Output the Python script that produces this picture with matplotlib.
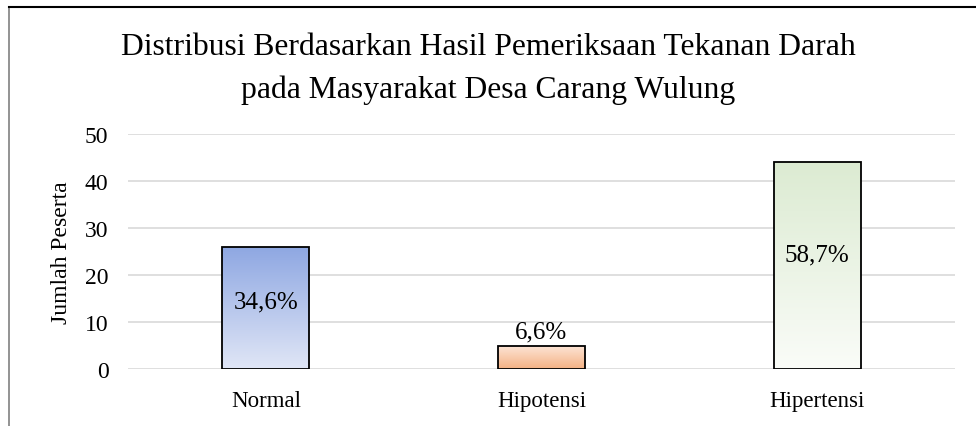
import matplotlib.pyplot as plt
import numpy as np
from matplotlib.colors import LinearSegmentedColormap
from matplotlib.lines import Line2D

categories = ['Normal', 'Hipotensi', 'Hipertensi']
counts = [26, 5, 44]
percent_labels = ['34,6%', '6,6%', '58,7%']
# gradient colours (top, bottom) for each bar
grad_top = ['#8ea7e2', '#fde6d8', '#dcebd2']
grad_bottom = ['#e0e6f6', '#f4b183', '#fafcf8']

plt.rcParams['font.family'] = ['Liberation Serif', 'DejaVu Serif']

fig = plt.figure(figsize=(9.76, 4.27), dpi=100)
ax = fig.add_axes([128 / 976, 1 - 370 / 427, 827 / 976, 235 / 427])

x = np.arange(len(categories))
width = 0.315
bars = ax.bar(x, counts, width=width, facecolor='none', edgecolor='black',
              linewidth=1.3, zorder=3)

grad = np.linspace(0, 1, 256).reshape(-1, 1)
for i, bar in enumerate(bars):
    cmap = LinearSegmentedColormap.from_list('g%d' % i, [grad_bottom[i], grad_top[i]])
    x0 = bar.get_x()
    im = ax.imshow(grad, cmap=cmap, aspect='auto', origin='lower',
                   extent=[x0, x0 + bar.get_width(), 0, bar.get_height()], zorder=2)
    im.set_clip_path(bar)

# percentage labels: inside the bar, or above it when the bar is short
for i, bar in enumerate(bars):
    h = bar.get_height()
    if h < 10:
        ax.text(x[i], h + 0.7, percent_labels[i], ha='center', va='bottom', fontsize=18)
    else:
        ax.text(x[i], h * 0.555, percent_labels[i], ha='center', va='center', fontsize=18)

ax.set_xlim(-0.5, 2.5)
ax.set_ylim(0, 50)
ax.set_yticks(range(0, 51, 10))
ax.set_xticks(x)
ax.set_xticklabels(categories, fontsize=16.5)
ax.tick_params(axis='y', labelsize=17, length=0, pad=14)
ax.tick_params(axis='x', length=0, pad=15)
ax.yaxis.grid(True, color='#d9d9d9', linewidth=1.2, zorder=0)
ax.set_axisbelow(True)
for s in ax.spines.values():
    s.set_visible(False)
ax.set_ylabel('Jumlah Peserta', fontsize=17, labelpad=9)

fig.text(0.5, 1 - 69 / 427, 'Distribusi Berdasarkan Hasil Pemeriksaan Tekanan Darah\npada Masyarakat Desa Carang Wulung',
         ha='center', va='center', fontsize=22.8, linespacing=1.6)

# chart border (cropped at right and bottom)
fig.add_artist(Line2D([9 / 976, 9 / 976], [0, 1 - 8 / 427], color='#808080', linewidth=1.2))
fig.add_artist(Line2D([9 / 976, 1], [1 - 8 / 427, 1 - 8 / 427], color='black', linewidth=1.5))

fig.savefig('out.png', dpi=100)
